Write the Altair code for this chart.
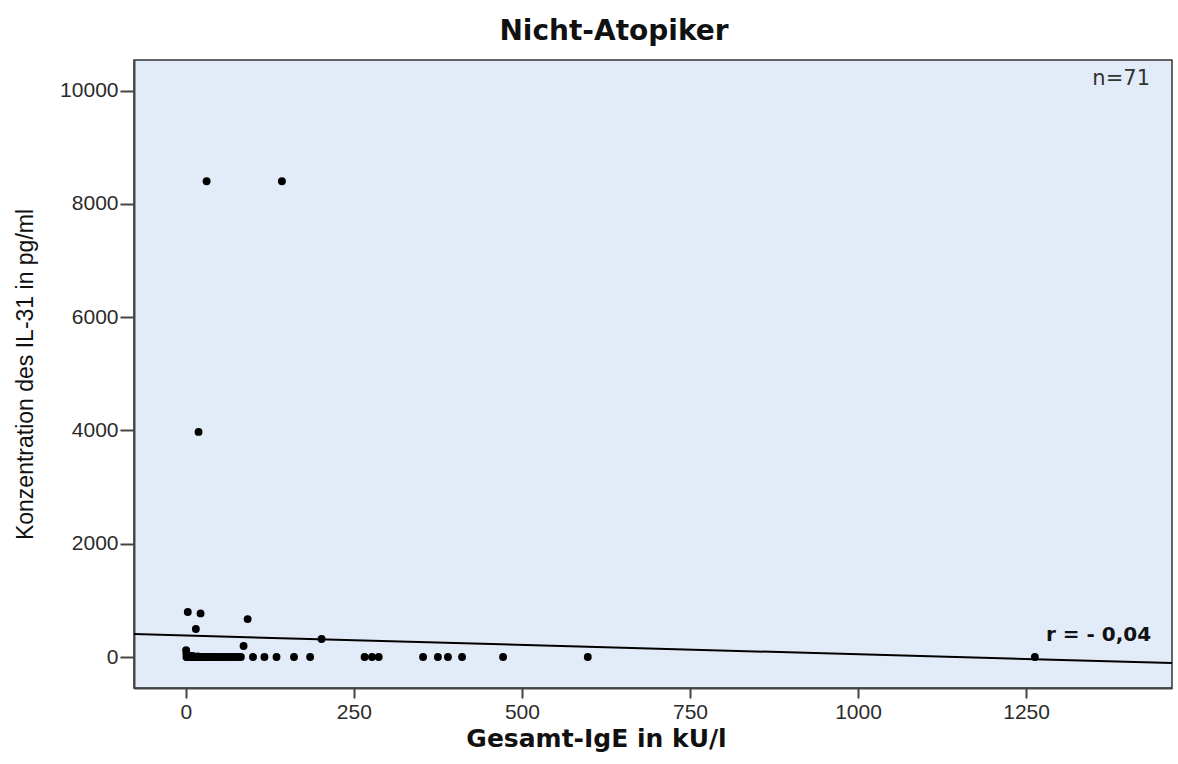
import altair as alt
import pandas as pd

# ---- data ----
# IgE (kU/l) and IL-31 (pg/ml) per subject, n = 71
cluster_ige = [0.5, 1, 1, 2, 2, 3, 3, 4, 5, 5, 6, 7, 8, 9, 10, 11, 12, 13, 14, 15,
               16, 17, 18, 19, 20, 22, 24, 25, 27, 29, 31, 33, 35, 38, 40, 43, 46,
               49, 52, 55, 58, 62, 66, 70, 74, 78, 82]
cluster_il31 = [120, 60, 0, 30, 0, 0, 15, 0, 25, 0, 0, 10, 0, 0, 20, 0, 0, 0, 5, 0,
                0, 0, 10, 0, 0, 0, 0, 0, 0, 0, 0, 0, 0, 0, 0, 0, 0,
                0, 0, 0, 0, 0, 0, 0, 0, 0, 0]
high_ige = [31, 143, 19, 3, 22, 15, 92, 86, 202]
high_il31 = [8400, 8400, 3975, 795, 770, 495, 670, 195, 318]
zero_ige = [100, 117, 135, 161, 185, 266, 277, 287, 353, 375, 390, 411, 472, 598, 1263]
zero_il31 = [0] * 15

# fitted regression line (end points at the plot edges)
fit_x = [-77, 1467]
fit_y = [406, -106]

x_ticks = [0, 250, 500, 750, 1000, 1250]
y_ticks = [0, 2000, 4000, 6000, 8000, 10000]

pts = pd.DataFrame({
    "ige": cluster_ige + high_ige + zero_ige,
    "il31": cluster_il31 + high_il31 + zero_il31,
})
fit = pd.DataFrame({"ige": fit_x, "il31": fit_y})
ann = pd.DataFrame({"t": ["n=71"]})
ann2 = pd.DataFrame({"t": ["r = - 0,04"]})

x_scale = alt.Scale(domain=[-77, 1467], nice=False, zero=False)
y_scale = alt.Scale(domain=[-547, 10542], nice=False, zero=False)

x_axis = alt.Axis(
    values=x_ticks, format="d", title="Gesamt-IgE in kU/l", grid=False,
    tickSize=10, tickColor="#444", tickWidth=2,
    domainColor="#444", domainWidth=2,
    labelFont="Liberation Sans", labelFontSize=21, labelColor="#2b2b2b", labelPadding=3,
    titleFont="DejaVu Sans", titleFontSize=25, titleFontWeight="bold", titleColor="#111",
    titleX=462, titleY=50, titleBaseline="middle", titleAnchor="start", titleAlign="center",
)
y_axis = alt.Axis(
    values=y_ticks, format="d", title="Konzentration des IL-31 in pg/ml", grid=False,
    tickSize=14, tickColor="#444", tickWidth=2,
    domainColor="#444", domainWidth=2,
    labelFont="Liberation Sans", labelFontSize=21, labelColor="#2b2b2b", labelPadding=2,
    titleFont="Liberation Sans", titleFontSize=23, titleFontWeight="normal", titleColor="#111",
    titleX=-109, titleY=314, titleBaseline="middle", titleAlign="center", titleAngle=270,
)

points = alt.Chart(pts).mark_circle(size=62, color="black", opacity=1).encode(
    x=alt.X("ige:Q", scale=x_scale, axis=x_axis),
    y=alt.Y("il31:Q", scale=y_scale, axis=y_axis),
)

line = alt.Chart(fit).mark_line(color="black", strokeWidth=2, clip=True).encode(
    x=alt.X("ige:Q", scale=x_scale),
    y=alt.Y("il31:Q", scale=y_scale),
)

n_text = alt.Chart(ann).mark_text(
    font="DejaVu Sans", fontSize=21, color="#333", align="right", baseline="alphabetic"
).encode(x=alt.value(1016), y=alt.value(25), text="t:N")

r_text = alt.Chart(ann2).mark_text(
    font="DejaVu Sans", fontSize=20, fontWeight="bold", color="#111", align="left", baseline="alphabetic"
).encode(x=alt.value(912), y=alt.value(581), text="t:N")

chart = alt.layer(points, line, n_text, r_text).properties(
    width=1038,
    height=628,
    background="white",
    padding={"left": 134, "top": 60, "right": 6, "bottom": 76},
    autosize=alt.AutoSizeParams(type="none"),
    title=alt.TitleParams(
        "Nicht-Atopiker", font="DejaVu Sans", fontSize=28, fontWeight="bold",
        color="#111", anchor="middle", dx=-39, offset=14,
    ),
).configure_view(
    fill="#E1ECF8", stroke="#333", strokeWidth=1.5
)

chart.save("out.html", embed_options={"renderer": "svg", "actions": False})
